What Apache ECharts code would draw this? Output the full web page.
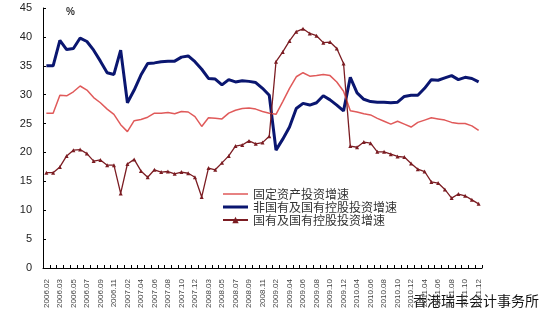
<!DOCTYPE html>
<html>
<head>
<meta charset="utf-8">
<script src="https://cdn.jsdelivr.net/npm/echarts@6/dist/echarts.min.js"></script>
<style>
html,body{margin:0;padding:0;background:#fff;}
#chart{width:550px;height:326px;}
</style>
</head>
<body>
<div id="chart"></div>
<script>
// Visible tick labels (every other category)
var tickLabels = ['2006.02','2006.03','2006.05','2006.07','2006.09','2006.11',
  '2007.02','2007.04','2007.06','2007.08','2007.10','2007.12',
  '2008.03','2008.05','2008.07','2008.09','2008.11',
  '2009.02','2009.04','2009.06','2009.08','2009.10','2009.12',
  '2010.04','2010.06','2010.08','2010.10','2010.12',
  '2011.04','2011.06','2011.08','2011.10','2011.12'];

var seriesNames = ['固定资产投资增速','非国有及国有控股投资增速','国有及国有控股投资增速'];

var totalGrowth = [26.8,26.8,29.9,29.8,30.5,31.5,30.8,29.5,28.6,27.5,26.6,24.8,23.6,25.5,25.7,26.1,26.8,26.8,26.9,26.7,27.1,27.0,26.2,24.5,26.0,25.9,25.8,26.8,27.3,27.6,27.7,27.5,27.1,26.8,26.6,28.8,31.1,33.1,33.8,33.2,33.3,33.5,33.3,32.2,30.6,27.2,27.0,26.7,26.5,25.9,25.4,24.9,25.4,24.9,24.4,25.2,25.6,26.0,25.8,25.6,25.2,25.0,25.0,24.6,23.8];

var nonStateGrowth = [35.0,35.0,39.4,37.8,38.0,39.8,39.2,37.7,35.8,33.8,33.5,37.7,28.6,30.8,33.4,35.4,35.5,35.7,35.8,35.8,36.5,36.7,35.7,34.4,32.8,32.7,31.7,32.6,32.2,32.4,32.3,32.1,31.1,29.9,20.4,22.3,24.4,27.6,28.5,28.2,28.6,29.8,29.1,28.2,27.2,33.0,30.3,29.2,28.8,28.7,28.7,28.6,28.7,29.7,29.9,29.9,31.1,32.6,32.5,32.9,33.3,32.6,33.0,32.8,32.2];

var stateGrowth = [16.5,16.5,17.5,19.4,20.4,20.5,19.8,18.5,18.7,17.8,17.8,12.9,18.0,18.8,16.8,15.7,17.0,16.6,16.7,16.3,16.6,16.4,15.7,12.3,17.3,17.0,18.2,19.4,21.1,21.3,22.0,21.5,21.7,22.8,35.7,37.4,39.3,40.9,41.4,40.6,40.2,39.0,39.1,38.0,35.4,21.1,20.9,21.8,21.6,20.1,20.1,19.7,19.3,19.2,18.1,17.1,16.7,14.9,14.7,13.6,12.1,12.8,12.5,11.8,11.1];

var categories = [];
for (var i = 0; i < tickLabels.length; i++) {
  categories.push(tickLabels[i]);
  if (i < tickLabels.length - 1) categories.push('');
}

// line-only legend icons (tiny corner dots keep the full icon box)
var thinLineIcon = 'path://M0,0H0.01V0.01H0Z M0,3.3H25V4.7H0Z M24.99,7.99H25V8H24.99Z';
var thickLineIcon = 'path://M0,0H0.01V0.01H0Z M0,2.6H25V5.4H0Z M24.99,7.99H25V8H24.99Z';

var chart = echarts.init(document.getElementById('chart'), null, {renderer: 'canvas'});
chart.setOption({
  animation: false,
  backgroundColor: '#ffffff',
  grid: {left: 43, right: 68, top: 8, bottom: 58, containLabel: false},
  legend: {
    orient: 'vertical',
    left: 217,
    top: 183,
    itemWidth: 25,
    itemHeight: 8,
    itemGap: 1,
    data: [
      {name: seriesNames[0], icon: thinLineIcon},
      {name: seriesNames[1], icon: thickLineIcon},
      {name: seriesNames[2]}
    ],
    textStyle: {fontFamily: 'Noto Sans CJK SC', fontSize: 12, color: '#333'}
  },
  xAxis: {
    type: 'category',
    data: categories,
    boundaryGap: true,
    axisLine: {lineStyle: {color: '#000', width: 1}},
    axisTick: {show: true, inside: true, length: 3, interval: 0, lineStyle: {color: '#000'}},
    axisLabel: {interval: 1, rotate: 90, fontSize: 8, margin: 11, color: '#444', fontFamily: 'Liberation Sans'},
    splitLine: {show: false}
  },
  yAxis: {
    type: 'value',
    min: 0, max: 45, interval: 5,
    axisLine: {show: true, lineStyle: {color: '#000', width: 1}},
    axisTick: {show: true, inside: true, length: 3, lineStyle: {color: '#000'}},
    axisLabel: {fontSize: 11, margin: 11, color: '#222', fontFamily: 'Liberation Sans'},
    splitLine: {show: false}
  },
  graphic: [
    {type: 'text', left: 66, top: 7, style: {text: '%', fontSize: 10, fontWeight: 'bold', fill: '#333', fontFamily: 'Liberation Sans'}},
    {type: 'text', left: 413, top: 294, style: {text: '香港瑞丰会计事务所', fontSize: 14, fill: '#111', fontFamily: 'Noto Sans CJK SC'}}
  ],
  series: [
    {name: seriesNames[0], type: 'line', data: totalGrowth, symbol: 'none',
      lineStyle: {color: '#e05a5a', width: 1.5}, itemStyle: {color: '#e05a5a'}, z: 3},
    {name: seriesNames[1], type: 'line', data: nonStateGrowth, symbol: 'none',
      lineStyle: {color: '#0a1670', width: 3}, itemStyle: {color: '#0a1670'}, z: 2},
    {name: seriesNames[2], type: 'line', data: stateGrowth, symbol: 'triangle', symbolSize: 4, showSymbol: true,
      lineStyle: {color: '#7b1c22', width: 1.3}, itemStyle: {color: '#7b1c22'}, z: 4}
  ]
});
</script>
</body>
</html>
